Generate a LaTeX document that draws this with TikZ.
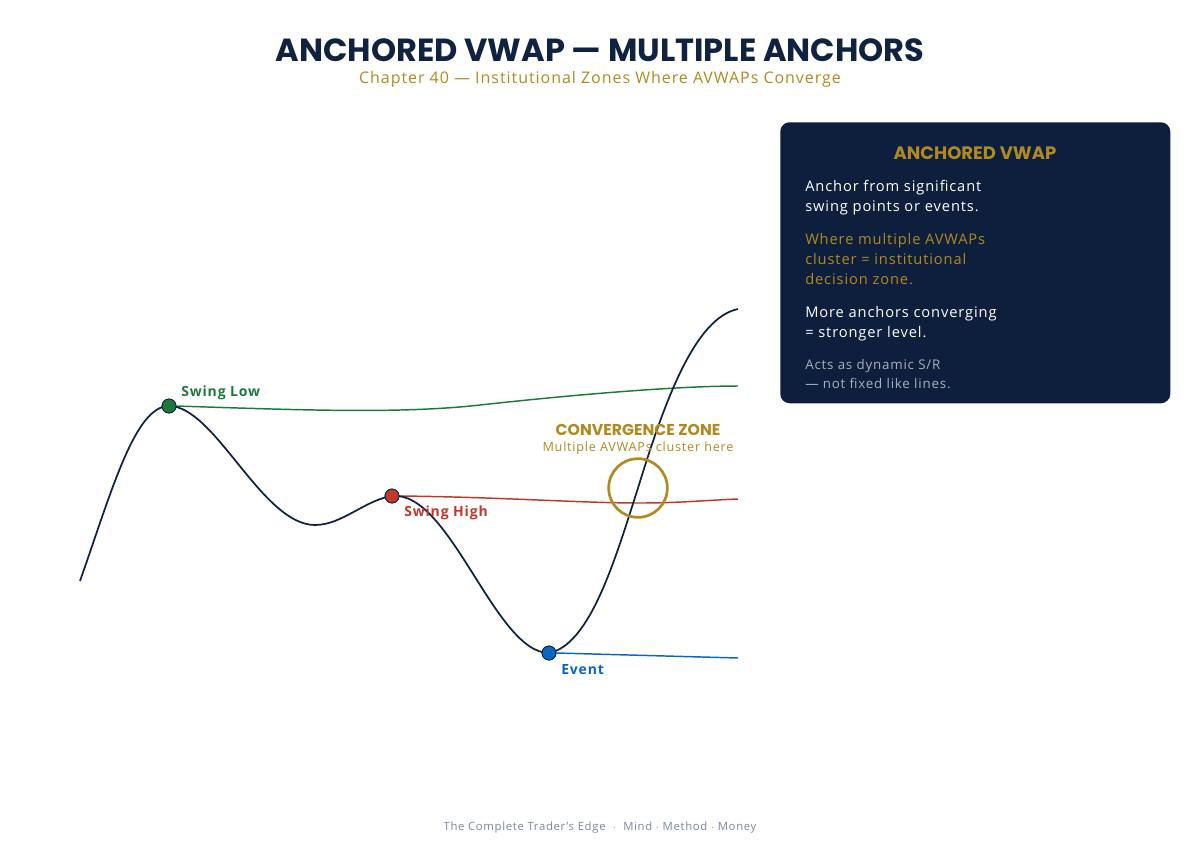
\documentclass[tikz,border=0pt]{standalone}
\usepackage{fontspec}
\setmainfont{Open Sans}[LetterSpace=6]
\newfontfamily\pop{Poppins}
\definecolor{navy}{HTML}{0F2240}
\definecolor{panelbg}{HTML}{0D1F3C}
\definecolor{gold}{HTML}{B08A1E}
\definecolor{sgreen}{HTML}{1E7A3C}
\definecolor{sred}{HTML}{C0392B}
\definecolor{sblue}{HTML}{0A66C2}
\definecolor{foot}{HTML}{7A8899}
\definecolor{lgray}{HTML}{A8B0BC}
\begin{document}
\begin{tikzpicture}[x=0.75pt,y=-0.75pt,
  dot/.style={circle,draw=navy,line width=0.6pt,minimum size=10.5pt,inner sep=0pt},
  lbl/.style={font=\bfseries\fontsize{10.5}{12}\selectfont,anchor=west,inner sep=0pt},
  ptxt/.style={anchor=north west,inner sep=0pt,align=left,font=\fontsize{11}{15}\selectfont,text=white},
  avwap/.style={line width=1.1pt}]
\useasboundingbox (0,0) rectangle (1200,850);
% title
\node[font=\pop\bfseries\fontsize{24}{28}\selectfont,text=navy,inner sep=0pt] (title) at (600,50) {ANCHORED VWAP — MULTIPLE ANCHORS};
\node[font=\fontsize{12}{14}\selectfont,text=gold,inner sep=0pt] (sub) at (600,79) {Chapter 40 — Institutional Zones Where AVWAPs Converge};
% anchor points
\coordinate (A) at (80,581);
\node[dot,fill=sgreen] (p1) at (169,406) {};
\coordinate (T) at (315,525);
\node[dot,fill=sred] (p2) at (392,496) {};
\node[dot,fill=sblue] (p3) at (549,653) {};
\coordinate (C) at (638,488);
\coordinate (E) at (738,309);
% AVWAP lines
\coordinate (g1) at (480,405);
\coordinate (gE) at (738,386);
\draw[avwap,sgreen] (p1.east) .. controls (300,410) and (400,414) .. (g1) .. controls (580,394) and (680,386) .. (gE);
\coordinate (r1) at (640,503);
\coordinate (rE) at (738,499);
\draw[avwap,sred] (p2.east) .. controls (500,497) and (580,503) .. (r1) .. controls (680,503) and (710,500) .. (rE);
\coordinate (bE) at (738,658);
\draw[avwap,sblue] (p3.east) -- (bE);
% price curve
\draw[navy,line width=1.3pt] (A) .. controls (112,490) and (135,406) .. (p1.center)
  .. controls (215,406) and (262,525) .. (T)
  .. controls (342,525) and (365,500) .. (p2.center)
  .. controls (450,490) and (495,653) .. (p3.center)
  .. controls (590,645) and (615,560) .. (C)
  .. controls (665,400) and (695,318) .. (E);
% redraw dots on top
\node[dot,fill=sgreen] at (p1) {};
\node[dot,fill=sred] at (p2) {};
\node[dot,fill=sblue] at (p3) {};
% labels
\node[lbl,text=sgreen] (l1) at (181,393) {Swing Low};
\node[lbl,text=sred] (l2) at (404,513) {Swing High};
\node[lbl,text=sblue] (l3) at (561,670) {Event};
% convergence zone
\node[circle,draw=gold,line width=2pt,minimum size=44pt,inner sep=0pt] (cz) at (638,488) {};
\node[font=\pop\bfseries\fontsize{11.8}{13}\selectfont,text=gold] (czt) at (638,430) {CONVERGENCE ZONE};
\node[font=\fontsize{9.5}{11}\selectfont,text=gold] (czs) at (638,448) {Multiple AVWAPs cluster here};
% panel
\node[draw=none,fill=panelbg,rounded corners=7pt,minimum width=292.5pt,minimum height=210.75pt,anchor=north west,inner sep=0pt] (panel) at (780,122) {};
\node[font=\pop\bfseries\fontsize{13.5}{15}\selectfont,text=gold] (pt) at (975,153) {ANCHORED VWAP};
\node[ptxt] (t1) at (805,180) {Anchor from significant\\swing points or events.};
\node[ptxt,text=gold] (t2) at (805,233) {Where multiple AVWAPs\\cluster = institutional\\decision zone.};
\node[ptxt] (t3) at (805,306) {More anchors converging\\= stronger level.};
\node[ptxt,text=lgray,font=\fontsize{10}{14.25}\selectfont] (t4) at (805,359) {Acts as dynamic S/R\\— not fixed like lines.};
% footer
\node[font=\fontsize{8.5}{10}\selectfont,text=foot] (ft) at (600,828) {The Complete Trader's Edge \ $\cdot$\ \ Mind $\cdot$ Method $\cdot$ Money};
\end{tikzpicture}
\end{document}
